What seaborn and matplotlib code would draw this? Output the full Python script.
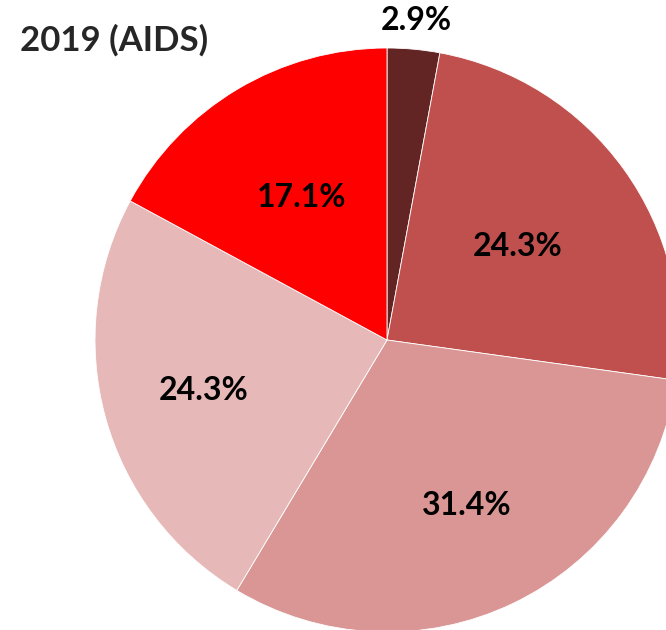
import numpy as np
import seaborn as sns
import matplotlib.pyplot as plt

sns.set_theme(style="white")
plt.rcParams['font.family'] = ['Lato', 'DejaVu Sans']

# slices, clockwise from 12 o'clock
shares = [2.9, 24.3, 31.4, 24.3, 17.1]
colors = ['#632523', '#C0504D', '#D99694', '#E6B9B8', '#FF0000']
title = '2019 (AIDS)'
# radial position of each percentage label (fraction of radius)
label_dist = [1.1, 0.55, 0.63, 0.65, 0.57]

fig = plt.figure(figsize=(6.66, 6.3), dpi=100)
# pie centre at (387, 340) px, radius 292 px; runs past right and bottom edges
ax = fig.add_axes([(387 - 292) / 666, (630 - 340 - 292) / 630, 584 / 666, 584 / 630])

wedges, texts, autotexts = ax.pie(
    shares, colors=colors, startangle=90, counterclock=False,
    autopct='%.1f%%', pctdistance=0.6, radius=1,
    wedgeprops=dict(edgecolor='white', linewidth=0.6),
    textprops=dict(fontsize=23, fontweight='bold', color='black'))

for w, t, d in zip(wedges, autotexts, label_dist):
    mid = np.deg2rad((w.theta1 + w.theta2) / 2)
    t.set_position((d * np.cos(mid), d * np.sin(mid)))

ax.set_xlim(-1, 1)
ax.set_ylim(-1, 1)
ax.set_aspect('equal')
ax.axis('off')

fig.text(20 / 666, 1 - 40 / 630, title, fontsize=25, fontweight='bold',
         ha='left', va='center')

fig.savefig('out.png', dpi=100)
